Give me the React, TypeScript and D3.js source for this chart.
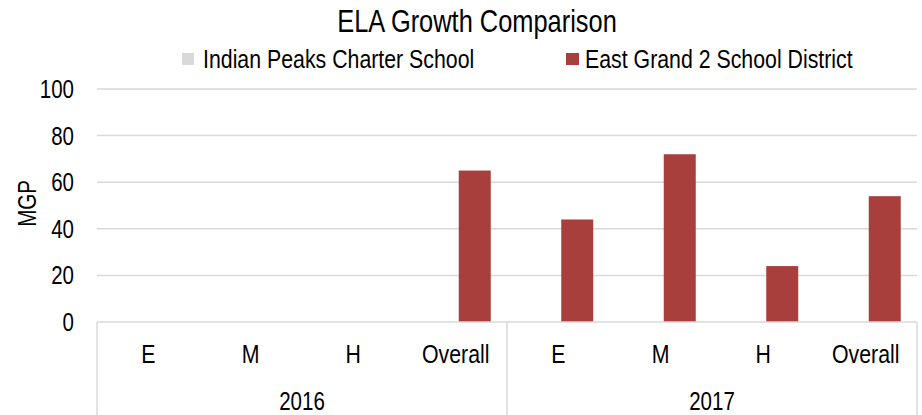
import React from 'react'
import * as d3 from 'd3'

const years = ['2016', '2017']
const levels = ['E', 'M', 'H', 'Overall']
const seriesNames = ['Indian Peaks Charter School', 'East Grand 2 School District']
const seriesColors = ['#d9d9d9', '#a83f3c']
// null = no bar drawn
const indianPeaks: (number | null)[] = [null, null, null, null, null, null, null, null]
const eastGrand: (number | null)[] = [null, null, null, 65, 44, 72, 24, 54]
const yTicks = [0, 20, 40, 60, 80, 100]

const FONT = '"Liberation Sans", Arial, sans-serif'
const SQUEEZE = 0.82 // no narrow face installed, so condense horizontally

// text drawn condensed, like Arial Narrow
const T = ({ x, y, size, anchor = 'start', dy, children }: any) => (
  <text transform={`translate(${x},${y}) scale(${SQUEEZE},1)`} textAnchor={anchor}
    fontSize={size} dy={dy} fill='#000'>{children}</text>
)

const App = () => {
  const width = 922
  const height = 415
  const margin = { top: 89, right: 5, bottom: 93, left: 97 }
  const plotBottom = height - margin.bottom

  const keys = years.flatMap(y => levels.map(l => y + '|' + l))
  const x0 = d3.scaleBand().domain(keys).range([margin.left, width - margin.right])
  const x1 = d3.scaleBand().domain(seriesNames).range([0, x0.bandwidth()])
    .paddingInner(0.158).paddingOuter(0.428)
  const y = d3.scaleLinear().domain([0, 100]).range([plotBottom, margin.top])

  const values = [indianPeaks, eastGrand]
  const grid = '#d9d9d9'

  return (
    <svg width={width} height={height} style={{ position: 'absolute', left: 0, top: 0 }}
      fontFamily={FONT}>
      <rect width={width} height={height} fill='#fff' />
      <T x={477} y={32} size={31} anchor='middle'>ELA Growth Comparison</T>

      {/* legend */}
      <rect x={182} y={53} width={12} height={12} fill={seriesColors[0]} />
      <T x={203} y={68} size={26}>{seriesNames[0]}</T>
      <rect x={566} y={53} width={13} height={12} fill={seriesColors[1]} />
      <T x={585} y={68} size={26}>{seriesNames[1]}</T>

      {/* gridlines */}
      {yTicks.filter(t => t > 0).map(t => (
        <line key={t} x1={margin.left} x2={width - margin.right} y1={y(t)} y2={y(t)}
          stroke={grid} strokeWidth={1.5} />
      ))}
      {yTicks.map(t => (
        <T key={'l' + t} x={74} y={y(t)} dy='0.36em' anchor='end' size={25}>{t}</T>
      ))}
      <text transform={`translate(27,${(margin.top + plotBottom) / 2 - 2}) rotate(-90) scale(${SQUEEZE},1)`}
        textAnchor='middle' dy='0.36em' fontSize={25}>MGP</text>

      {/* bars */}
      {values.map((vals, si) => keys.map((k, i) => {
        const v = vals[i]
        if (v == null) return null
        return (
          <rect key={si + k} x={(x0(k) || 0) + (x1(seriesNames[si]) || 0)} y={y(v)}
            width={x1.bandwidth()} height={plotBottom - y(v)} fill={seriesColors[si]} />
        )
      }))}

      {/* category axis */}
      <line x1={margin.left} x2={width - margin.right} y1={plotBottom} y2={plotBottom}
        stroke={grid} strokeWidth={1.5} />
      {[0, 4, 8].map(i => {
        const xx = i < 8 ? (x0(keys[i]) || 0) : width - margin.right
        return <line key={'v' + i} x1={xx} x2={xx} y1={plotBottom} y2={height} stroke={grid} strokeWidth={1.5} />
      })}
      {keys.map(k => (
        <T key={'c' + k} x={(x0(k) || 0) + x0.bandwidth() / 2} y={363} anchor='middle' size={26}>
          {k.split('|')[1]}
        </T>
      ))}
      {years.map((yr, i) => {
        const a = x0(keys[i * 4]) || 0
        const b = (x0(keys[i * 4 + 3]) || 0) + x0.bandwidth()
        return <T key={yr} x={(a + b) / 2} y={410} anchor='middle' size={25}>{yr}</T>
      })}
    </svg>
  )
}

export default App
